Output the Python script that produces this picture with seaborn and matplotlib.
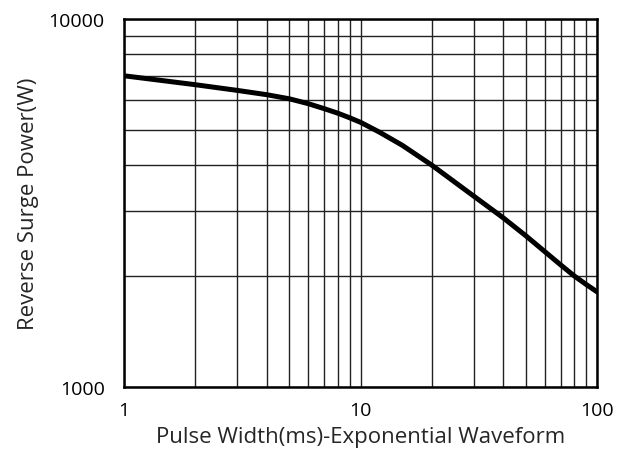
import matplotlib

matplotlib.use("Agg")

import matplotlib.pyplot as plt
import matplotlib.ticker as mticker
import pandas as pd
import seaborn as sns

# values
pulse_width_ms = [1, 2, 3, 4, 5, 6, 7, 8, 9, 10, 12, 15, 20, 30, 40, 50, 60, 70, 80, 90, 100]
surge_power_w = [7000, 6620, 6390, 6220, 6060, 5880, 5700, 5540, 5380, 5230, 4920,
                 4530, 4000, 3300, 2880, 2570, 2330, 2145, 2000, 1895, 1810]

x_ticks = [1, 10, 100]
y_ticks = [1000, 10000]

df = pd.DataFrame({"pw": pulse_width_ms, "p": surge_power_w})

sns.set_style("white")
plt.rcParams["font.family"] = ["Open Sans", "DejaVu Sans"]

fig = plt.figure(figsize=(6.3, 4.6), dpi=100)
ax = fig.add_axes([0.197, 0.157, 0.751, 0.8])

ax.set_xscale("log")
ax.set_yscale("log")

sns.lineplot(data=df, x="pw", y="p", ax=ax, color="black", linewidth=3.6)

ax.set_xlim(1, 100)
ax.set_ylim(1000, 10000)

ax.xaxis.set_major_locator(mticker.FixedLocator(x_ticks))
ax.yaxis.set_major_locator(mticker.FixedLocator(y_ticks))
ax.xaxis.set_minor_locator(mticker.LogLocator(base=10, subs=range(2, 10)))
ax.yaxis.set_minor_locator(mticker.LogLocator(base=10, subs=range(2, 10)))
ax.xaxis.set_major_formatter(mticker.FuncFormatter(lambda v, _: f"{v:g}"))
ax.yaxis.set_major_formatter(mticker.FuncFormatter(lambda v, _: f"{v:.0f}"))
ax.xaxis.set_minor_formatter(mticker.NullFormatter())
ax.yaxis.set_minor_formatter(mticker.NullFormatter())

ax.grid(True, which="both", color="#222222", linewidth=1.0)
ax.tick_params(which="both", length=0, labelsize=14, colors="black")
ax.tick_params(axis="x", pad=10)
ax.tick_params(axis="y", pad=14)

for s in ax.spines.values():
    s.set_color("black")
    s.set_linewidth(1.8)

ax.set_xlabel("Pulse Width(ms)-Exponential Waveform", fontsize=16, labelpad=5)
ax.set_ylabel("Reverse Surge Power(W)", fontsize=16, labelpad=7)

fig.savefig("out.png", dpi=100)
